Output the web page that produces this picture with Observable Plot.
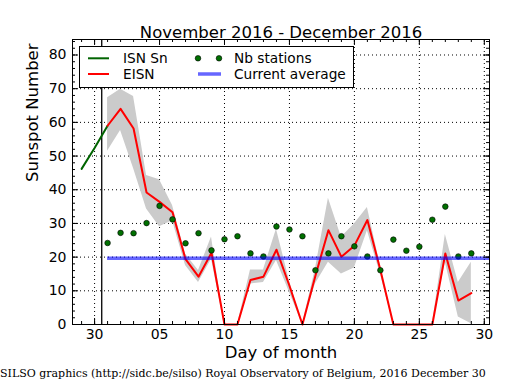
<!DOCTYPE html>
<html><head><meta charset="utf-8">
<script src="https://cdn.jsdelivr.net/npm/d3@7"></script>
<script src="https://cdn.jsdelivr.net/npm/@observablehq/plot@0.6"></script>
<style>body{margin:0;background:#fff} svg{display:block}</style>
</head><body><div id="chart"></div>
<script>
// Day numbers: Nov 29 = -1, Nov 30 = 0, Dec d = d
const isnDays = [-1, 0, 1];
const isnValues = [46.2, 52.4, 59.0];

const eisnDays = [1,2,3,4,5,6,7,8,9,10,11,12,13,14,15,16,17,18,19,20,21,22,23,24,25,26,27,28,29];
const eisnValues = [59.0, 64.0, 58.2, 39.2, 36.4, 33.3, 19.4, 14.2, 21.3, 0, 0, 13.2, 14.2, 22.2, 11.5, 0, 14.5, 28.0, 20.1, 23.4, 31.0, 16.2, 0, 0, 0, 0, 21.1, 7.1, 9.3];
const eisnUpper = [67.3, 69.8, 67.7, 44.2, 43.0, 35.3, 20.9, 16.0, 26.0, 0, 0, 16.2, 16.2, 28.3, 13.0, 0, 16.5, 37.5, 25.9, 29.8, 34.7, 17.5, 0, 0, 0, 0, 26.7, 12.5, 18.5];
const eisnLower = [51.4, 57.6, 46.3, 34.3, 29.0, 30.8, 17.5, 12.5, 19.4, 0, 0, 12.0, 12.5, 19.0, 9.6, 0, 12.0, 18.5, 15.0, 16.8, 27.8, 15.0, 0, 0, 0, 0, 18.5, 2.2, 0.2];
const stationValues = [24.2, 27.2, 27.1, 30.1, 35.2, 31.2, 24.1, 27.1, 22.0, 25.3, 26.2, 21.1, 20.2, 29.1, 28.2, 26.2, 16.1, 21.1, 26.2, 23.2, 20.2, 16.1, 25.2, 21.9, 23.1, 31.1, 35.0, 20.2, 21.1];

const currentAverage = 19.7;
const averageStartDay = 1;
const averageEndDay = 31;
const boundaryDay = 0.55;

const xDomain = [-1.7, 30.4];
const yDomain = [0, 84.6];
const xTicks = [0, 5, 10, 15, 20, 25, 30];
const xTickLabels = ["30", "05", "10", "15", "20", "25", "30"];
const yTicks = [0, 10, 20, 30, 40, 50, 60, 70, 80];
const xMinor = d3.range(-1, 31, 1);
const yMinor = d3.range(0, 85, 2);

const titleText = "November 2016 - December 2016";
const xLabelText = "Day of month";
const yLabelText = "Sunspot Number";
const footerText = "SILSO graphics (http://sidc.be/silso) Royal Observatory of Belgium, 2016 December 30";

const W = 515, H = 390;
const mTop = 39, mRight = 26, mBottom = 66, mLeft = 72;
const fw = W - mLeft - mRight, fh = H - mTop - mBottom;

const isnRows = isnDays.map((d, i) => ({day: d, v: isnValues[i]}));
const eisnRows = eisnDays.map((d, i) => ({day: d, v: eisnValues[i], hi: eisnUpper[i], lo: eisnLower[i]}));
const stRows = eisnDays.map((d, i) => ({day: d, v: stationValues[i]}));

const gridStyle = {stroke: "#000", strokeOpacity: 1, strokeWidth: 1, strokeDasharray: "1,3"};

const chart = Plot.plot({
  width: W, height: H,
  marginTop: mTop, marginRight: mRight, marginBottom: mBottom, marginLeft: mLeft,
  style: {fontFamily: "DejaVu Sans", fontSize: "14px", background: "white", color: "black"},
  x: {domain: xDomain, axis: null},
  y: {domain: yDomain, axis: null},
  marks: [
    Plot.gridX(xTicks, gridStyle),
    Plot.gridY(yTicks, gridStyle),
    Plot.areaY(eisnRows, {x: "day", y1: "lo", y2: "hi", fill: "#cbcbcb"}),
    Plot.ruleX([boundaryDay], {stroke: "black", strokeWidth: 1.3}),
    Plot.line(isnRows, {x: "day", y: "v", stroke: "#006400", strokeWidth: 2}),
    Plot.line(eisnRows, {x: "day", y: "v", stroke: "red", strokeWidth: 2}),
    Plot.dot(stRows, {x: "day", y: "v", r: 2.8, fill: "#007000", stroke: "black", strokeWidth: 0.6}),
    Plot.ruleY([currentAverage], {x1: averageStartDay, x2: averageEndDay, stroke: "blue", strokeOpacity: 0.6, strokeWidth: 3.5, clip: true}),
    // inward ticks
    Plot.ruleX(xMinor, {stroke: "black", insetTop: fh - 3}),
    Plot.ruleX(xMinor, {stroke: "black", insetBottom: fh - 3}),
    Plot.ruleX(xTicks, {stroke: "black", insetTop: fh - 6}),
    Plot.ruleX(xTicks, {stroke: "black", insetBottom: fh - 6}),
    Plot.ruleY(yMinor, {stroke: "black", insetRight: fw - 3}),
    Plot.ruleY(yMinor, {stroke: "black", insetLeft: fw - 3}),
    Plot.ruleY(yTicks, {stroke: "black", insetRight: fw - 6}),
    Plot.ruleY(yTicks, {stroke: "black", insetLeft: fw - 6}),
    Plot.frame({stroke: "black", strokeWidth: 1}),
    Plot.axisX(xTicks, {tickSize: 0, tickPadding: 5, fontSize: 14, tickFormat: d => xTickLabels[xTicks.indexOf(d)], label: null}),
    Plot.axisY(yTicks, {tickSize: 0, tickPadding: 6, fontSize: 14, label: null}),
    Plot.text([titleText], {frameAnchor: "top", dy: -13, fontSize: 16.5, fill: "black"}),
    Plot.text([xLabelText], {frameAnchor: "bottom", dy: 33, fontSize: 16.5, fill: "black"}),
    Plot.text([yLabelText], {frameAnchor: "left", dx: -40, rotate: -90, fontSize: 16.5, fill: "black"})
  ]
});
document.getElementById("chart").appendChild(chart);

// legend and footer
const svg = d3.select(chart);
const lg = svg.append("g").attr("font-family", "DejaVu Sans").attr("font-size", 13.7).attr("text-anchor", "start");
lg.append("rect").attr("x", 79.5).attr("y", 46.5).attr("width", 274).attr("height", 41)
  .attr("fill", "white").attr("stroke", "black").attr("stroke-width", 1);
const legendItems = [
  {label: "ISN Sn", kind: "line", color: "#006400", col: 0, row: 0},
  {label: "EISN", kind: "line", color: "red", col: 0, row: 1},
  {label: "Nb stations", kind: "dots", color: "#007000", col: 1, row: 0},
  {label: "Current average", kind: "avg", color: "blue", col: 1, row: 1}
];
const colX = [88, 198], textX = [123, 234], rowY = [58.3, 74];
for (const it of legendItems) {
  const x0 = colX[it.col], y0 = rowY[it.row];
  if (it.kind === "line") {
    lg.append("line").attr("x1", x0).attr("x2", x0 + 21).attr("y1", y0).attr("y2", y0)
      .attr("stroke", it.color).attr("stroke-width", 2);
  } else if (it.kind === "avg") {
    lg.append("line").attr("x1", x0).attr("x2", x0 + 23).attr("y1", y0).attr("y2", y0)
      .attr("stroke", it.color).attr("stroke-opacity", 0.6).attr("stroke-width", 3.5);
  } else {
    for (const dx of [0, 21]) {
      lg.append("circle").attr("cx", x0 + dx).attr("cy", y0).attr("r", 2.8)
        .attr("fill", it.color).attr("stroke", "black").attr("stroke-width", 0.6);
    }
  }
  lg.append("text").attr("x", textX[it.col]).attr("y", y0).attr("dy", "0.35em").attr("fill", "black").text(it.label);
}
svg.append("text").attr("x", 0).attr("y", 377).attr("font-family", "DejaVu Serif").attr("text-anchor", "start")
  .attr("font-size", 11).attr("fill", "black").text(footerText);
</script>
</body></html>
